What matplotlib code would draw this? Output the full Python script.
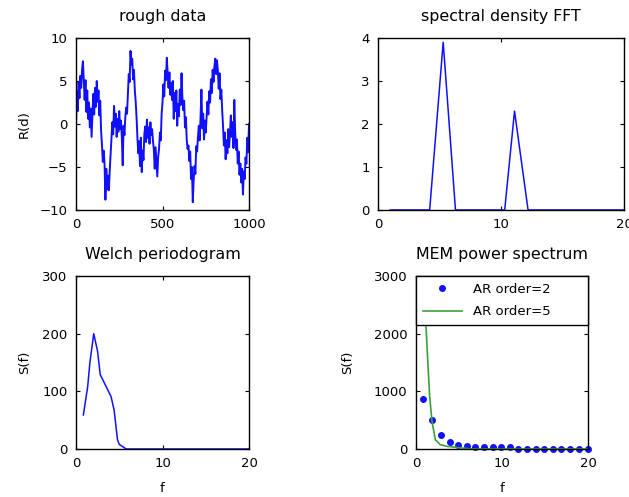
import matplotlib
matplotlib.use('Agg')
import matplotlib.pyplot as plt
import numpy as np

plt.rcParams['font.family'] = ['DejaVu Sans']
plt.rcParams['font.size'] = 9.5

# rough data, one value every 5 samples
rough = [
    -0.3, 3.8, 1.5, 4.9, 3.0, 5.6, 4.2, 6.3, 7.3, 5.0,
    2.8, 5.1, 1.4, 3.9, 0.6, 2.5, -0.4, 1.8, -1.5, 0.9,
    3.5, 1.1, 4.2, 2.0, 5.0, 2.6, 3.9, 1.0, 2.7, -0.8,
    -2.4, -4.4, -3.1, -4.6, -8.8, -5.2, -7.6, -6.0, -7.7, -5.4,
    -3.6, -1.8, 0.2, -1.2, 2.1, -0.3, 1.2, -1.5, 0.6, -0.9,
    1.5, -0.6, 0.4, -1.6, -4.8, -0.2, -1.3, 0.8, 1.9, 1.2,
    3.6, 5.8, 4.9, 8.5, 6.9, 7.6, 5.2, 6.3, 3.9, 2.6,
    0.8, -1.6, -3.4, -2.0, -4.9, -1.6, -5.6, -3.1, -4.2, -1.2,
    -0.3, -2.1, 0.5, -1.6, -0.4, -2.3, 0.2, -1.3, -0.6, -2.0,
    -3.0, -5.2, -2.7, -4.5, -6.1, -3.8, -2.9, -1.0, -1.9, 1.2,
    2.5, 4.6, 3.2, 6.2, 5.1, 7.7, 5.8, 4.2, 6.0, 3.4,
    4.8, 2.8, 5.0, 0.6, 3.6, 1.5, 3.9, -0.2, 2.3, 0.9,
    4.0, 2.2, 5.9, 3.1, 1.6, 2.7, -0.4, 0.8, -1.8, -2.9,
    -2.5, -4.3, -3.2, -6.4, -5.0, -9.1, -6.6, -4.9, -5.8, -2.6,
    -3.2, -1.5, -0.2, -1.9, 0.8, 4.0, -0.5, 1.2, -1.8, 0.4,
    -1.0, 0.9, 2.6, 1.1, 3.8, 2.5, 5.2, 3.6, 6.3, 4.9,
    6.7, 7.6, 5.8, 7.4, 6.2, 4.1, 5.9, 2.9, 4.0, 1.6,
    -0.3, -2.5, -1.0, -4.1, -1.9, -3.4, -0.6, -2.7, -1.1, 1.0,
    -1.5, 0.2, -2.8, 2.8, -0.9, -3.0, -1.8, -4.6, -3.2, -5.9,
    -4.6, -6.8, -5.2, -8.2, -5.5, -6.4, -3.9, -4.6, -1.6, -3.3,
    0.0,
]
rough_x = np.arange(len(rough)) * 5

# spectral density FFT
fft_f = [1.0, 4.2, 5.3, 6.3, 10.3, 11.1, 12.2, 20.0]
fft_s = [0.0, 0.0, 3.9, 0.0, 0.0, 2.3, 0.0, 0.0]

# Welch periodogram
welch_f = [0.85, 1.35, 1.6, 2.05, 2.5, 2.8, 4.05, 4.4, 4.8, 5.0, 5.8, 20.0]
welch_s = [59, 108, 149, 200, 169, 129, 91, 68, 16, 8, 0, 0]

# MEM power spectrum
ar2_f = [0.8, 1.9, 2.9, 3.9, 4.9, 5.9, 6.9, 7.9, 8.9, 9.9,
         10.9, 11.9, 12.9, 13.9, 14.9, 15.9, 16.9, 17.9, 18.9, 20.0]
ar2_s = [865, 508, 237, 121, 63, 46, 35, 29, 27, 27,
         27, 5, 5, 5, 5, 5, 5, 5, 5, 5]
ar5_f = [1.0, 1.16, 1.36, 1.59, 1.86, 2.25, 2.83, 3.6, 4.5, 5.5, 6.3, 10.0, 20.0]
ar5_s = [2900, 2150, 1546, 910, 479, 160, 75, 46, 30, 15, 3, 0, 0]

blue = '#1010ff'
green = '#3c9f3c'

fig = plt.figure(figsize=(6.29, 4.97), dpi=100)
W, H = 629.0, 497.0

def place(l, t, r, b):
    return fig.add_axes([l / W, 1 - b / H, (r - l) / W, (b - t) / H])

ax1 = place(76, 38, 249, 210)
ax2 = place(378, 38, 624, 210)
ax3 = place(76, 276, 249, 449)
ax4 = place(416, 276, 588, 449)

ax1.plot(rough_x, rough, color=blue, lw=1.4)
ax1.set_xlim(0, 1000)
ax1.set_ylim(-10, 10)
ax1.set_xticks([0, 500, 1000])
ax1.set_yticks([-10, -5, 0, 5, 10])
ax1.set_title('rough data', pad=12)
ax1.set_ylabel('R(d)')
ax1.yaxis.set_label_coords(-0.26, 0.5)

ax2.plot(fft_f, fft_s, color=blue, lw=1.1)
ax2.set_xlim(0, 20)
ax2.set_ylim(0, 4)
ax2.set_xticks([0, 10, 20])
ax2.set_yticks([0, 1, 2, 3, 4])
ax2.set_title('spectral density FFT', pad=12)

ax3.plot(welch_f, welch_s, color=blue, lw=1.1)
ax3.set_xlim(0, 20)
ax3.set_ylim(0, 300)
ax3.set_xticks([0, 10, 20])
ax3.set_yticks([0, 100, 200, 300])
ax3.set_title('Welch periodogram', pad=12)
ax3.set_ylabel('S(f)')
ax3.yaxis.set_label_coords(-0.26, 0.5)
ax3.set_xlabel('f')
ax3.xaxis.set_label_coords(0.5, -0.19)

ax4.plot(ar2_f, ar2_s, 'o', color=blue, ms=4, label='AR order=2', clip_on=False)
ax4.plot(ar5_f, ar5_s, color=green, lw=1.2, label='AR order=5')
ax4.set_xlim(0, 20)
ax4.set_ylim(0, 3000)
ax4.set_xticks([0, 10, 20])
ax4.set_yticks([0, 1000, 2000, 3000])
ax4.set_title('MEM power spectrum', pad=12)
ax4.set_ylabel('S(f)')
ax4.yaxis.set_label_coords(-0.36, 0.5)
ax4.set_xlabel('f')
ax4.xaxis.set_label_coords(0.5, -0.19)
leg = ax4.legend(loc='upper left', bbox_to_anchor=(0, 0, 1, 1), mode='expand',
                 borderaxespad=0, fancybox=False, framealpha=1, edgecolor='black',
                 numpoints=1, handlelength=3, labelspacing=0.75, borderpad=0.5)
leg.get_frame().set_linewidth(1)
leg.set_zorder(5)

for ax in [ax1, ax2, ax3, ax4]:
    ax.tick_params(direction='in', top=True, right=True, length=3, pad=6)
    for s in ax.spines.values():
        s.set_linewidth(1)

plt.savefig('out.png', dpi=100)
